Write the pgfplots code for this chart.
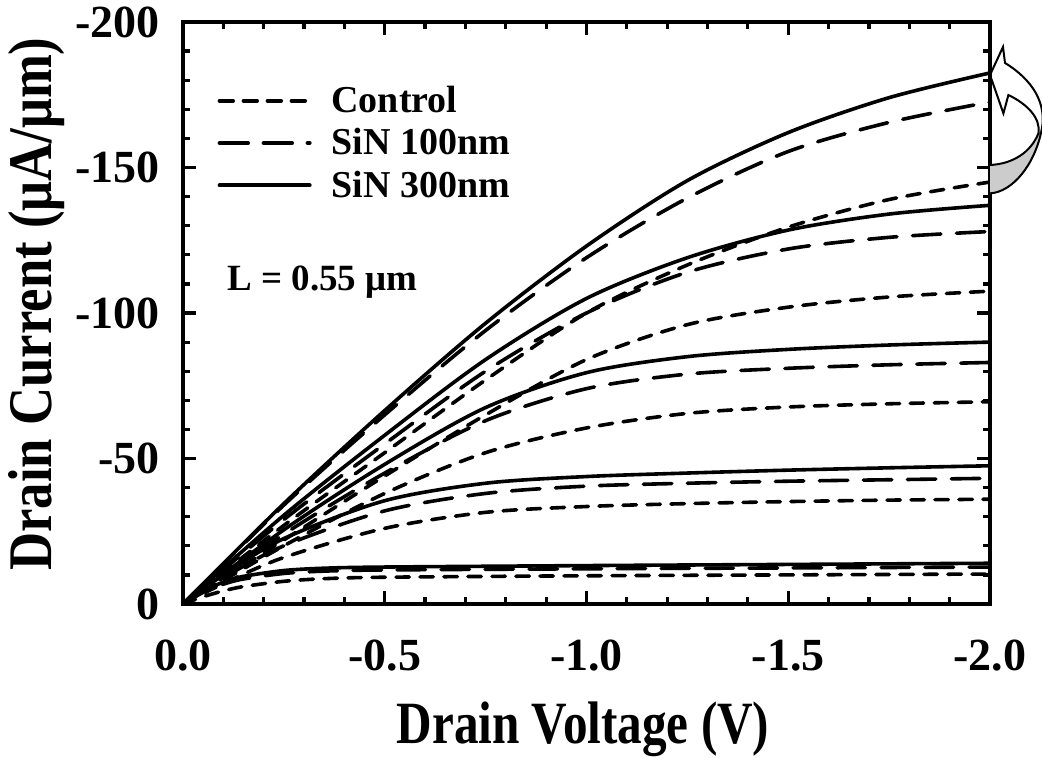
\documentclass[border=0pt]{standalone}
\usepackage{pgfplots}
\pgfplotsset{compat=1.18}
\usepackage{fontspec}
\setmainfont{Liberation Serif}
\newfontfamily\condfont{Liberation Serif}[FakeStretch=0.82]
\newfontfamily\condfontb{Liberation Serif}[FakeStretch=0.85]

\pgfplotsset{
  ctrl/.style={black, line width=1.8pt, line cap=round, dash pattern=on 6.7pt off 5.3pt, smooth, no markers},
  sin1/.style={black, line width=1.8pt, line cap=round, dash pattern=on 14.2pt off 7.8pt, smooth, no markers},
  sin3/.style={black, line width=1.8pt, line cap=round, solid, smooth, no markers},
}

\begin{document}
\begin{tikzpicture}
\useasboundingbox (-91.5pt,-77pt) rectangle (429.5pt,302pt);
\begin{axis}[
  at={(0pt,0pt)}, anchor=south west,
  scale only axis, width=403.5pt, height=291pt,
  xmin=-2, xmax=0, ymin=-200, ymax=0,
  x dir=reverse, y dir=reverse,
  xtick={-2,-1.5,-1,-0.5,0}, xticklabels={-2.0,-1.5,-1.0,-0.5,0.0},
  ytick={-200,-150,-100,-50,0}, yticklabels={-200,-150,-100,-50,0},
  minor x tick num=4, minor y tick num=4,
  tick pos=both, tick align=inside,
  major tick length=6.5pt, minor tick length=3.5pt,
  every tick/.append style={black, line width=1.6pt},
  axis line style={line width=2pt},
  tick label style={font=\fontsize{23}{27}\selectfont\bfseries},
  xticklabel style={anchor=north, inner sep=0pt, yshift=-18pt},
  yticklabel style={anchor=east, inner sep=0pt, xshift=-11.5pt},
  legend style={at={(axis description cs:0.035,0.901)}, anchor=north west, draw=none, fill=none,
    font=\fontsize{19}{21}\selectfont\bfseries, row sep=4.5pt,
    nodes={inner ysep=1pt, inner xsep=4pt}},
  legend cell align=left,
  legend image code/.code={\draw[#1, line width=2pt] (0pt,0pt) -- (45pt,0pt); \path (51pt,0pt);},
]
% Control
\addplot[ctrl] coordinates {(0,0) (-0.25,-27) (-0.5,-52) (-0.75,-77) (-1,-100) (-1.25,-116.5) (-1.5,-129.5) (-1.75,-139) (-2,-145)};
\addlegendentry{Control}
% SiN 100nm
\addplot[sin1] coordinates {(0,0) (-0.25,-34) (-0.5,-65) (-0.75,-94) (-1,-119) (-1.25,-139.5) (-1.5,-155.5) (-1.75,-165.5) (-2,-172.5)};
\addlegendentry{SiN 100nm}
% SiN 300nm
\addplot[sin3] coordinates {(0,0) (-0.25,-34.5) (-0.5,-66.5) (-0.75,-96.5) (-1,-123) (-1.25,-145.5) (-1.5,-162) (-1.75,-174) (-2,-182.5)};
\addlegendentry{SiN 300nm}

\addplot[ctrl, forget plot] coordinates {(0,0) (-0.25,-22) (-0.5,-44) (-0.75,-65) (-1,-84) (-1.25,-96) (-1.5,-102) (-1.75,-105.5) (-2,-107.5)};
\addplot[sin1, forget plot] coordinates {(0,0) (-0.25,-29) (-0.5,-55) (-0.75,-80) (-1,-100) (-1.25,-114) (-1.5,-122) (-1.75,-126) (-2,-128)};
\addplot[sin3, forget plot] coordinates {(0,0) (-0.25,-30.5) (-0.5,-58) (-0.75,-84) (-1,-105) (-1.25,-119) (-1.5,-128.5) (-1.75,-134) (-2,-137)};

\addplot[ctrl, forget plot] coordinates {(0,0) (-0.25,-20) (-0.5,-38) (-0.75,-52) (-1,-60.5) (-1.25,-65.5) (-1.5,-67.7) (-1.75,-68.8) (-2,-69.5)};
\addplot[sin1, forget plot] coordinates {(0,0) (-0.25,-24) (-0.5,-45) (-0.75,-63) (-1,-74) (-1.25,-79) (-1.5,-81) (-1.75,-82.2) (-2,-83)};
\addplot[sin3, forget plot] coordinates {(0,0) (-0.25,-25.5) (-0.5,-48) (-0.75,-67.5) (-1,-79.5) (-1.25,-85) (-1.5,-87.5) (-1.75,-89) (-2,-90)};

\addplot[ctrl, forget plot] coordinates {(0,0) (-0.1,-7) (-0.25,-16) (-0.5,-26) (-0.75,-31.5) (-1,-33.5) (-1.25,-34.5) (-1.5,-35.2) (-1.75,-35.7) (-2,-36)};
\addplot[sin1, forget plot] coordinates {(0,0) (-0.1,-9) (-0.25,-20) (-0.5,-32) (-0.75,-38) (-1,-40.5) (-1.25,-41.5) (-1.5,-42.2) (-1.75,-42.7) (-2,-43.2)};
\addplot[sin3, forget plot] coordinates {(0,0) (-0.1,-10) (-0.25,-22.5) (-0.5,-35.5) (-0.75,-41.5) (-1,-43.8) (-1.25,-45) (-1.5,-46) (-1.75,-46.8) (-2,-47.5)};

\addplot[ctrl, forget plot] coordinates {(0,0) (-0.05,-2.5) (-0.1,-4.5) (-0.15,-6) (-0.25,-7.8) (-0.35,-8.7) (-0.5,-9.2) (-1,-9.7) (-1.5,-10) (-2,-10.3)};
\addplot[sin1, forget plot] coordinates {(0,0) (-0.05,-4) (-0.1,-6.8) (-0.15,-8.6) (-0.25,-10.5) (-0.35,-11.3) (-0.5,-11.7) (-1,-12.1) (-1.5,-12.4) (-2,-12.7)};
\addplot[sin3, forget plot] coordinates {(0,0) (-0.05,-4.5) (-0.1,-7.5) (-0.15,-9.5) (-0.25,-11.5) (-0.35,-12.3) (-0.5,-12.7) (-1,-13.2) (-1.5,-13.6) (-2,-14)};
\end{axis}

% labels
\node[font=\condfont\bfseries\fontsize{30}{34}\selectfont, anchor=base] at (200pt,-70pt) {Drain Voltage (V)};
\node[font=\condfontb\bfseries\fontsize{31}{35}\selectfont, rotate=90, anchor=base] at (-65.5pt,150pt) {Drain Current (μA/μm)};
\node[font=\bfseries\fontsize{18.5}{21}\selectfont, anchor=base west, inner sep=0pt] at (22pt,156.7pt) {L = 0.55 μm};

% curved arrow
\fill[black!20] (403.5pt,219.5pt) .. controls (415pt,220pt) and (424pt,226pt) .. (427.7pt,235.3pt) -- (429.3pt,237pt) .. controls (426pt,220pt) and (415pt,206pt) .. (403.5pt,205.3pt) -- cycle;
\draw[line width=1pt, line join=miter] (403.5pt,205.3pt) .. controls (415pt,206pt) and (426pt,220pt) .. (429.3pt,237pt) .. controls (432pt,250pt) and (425pt,262pt) .. (411pt,270.5pt) -- (410pt,278.5pt) -- (403.5pt,264.5pt) -- (410.2pt,245.3pt) -- (412.7pt,254.5pt) .. controls (422pt,250pt) and (429pt,243pt) .. (427.7pt,235.3pt) .. controls (424pt,226pt) and (415pt,220pt) .. (403.5pt,219.5pt);
\end{tikzpicture}
\end{document}
